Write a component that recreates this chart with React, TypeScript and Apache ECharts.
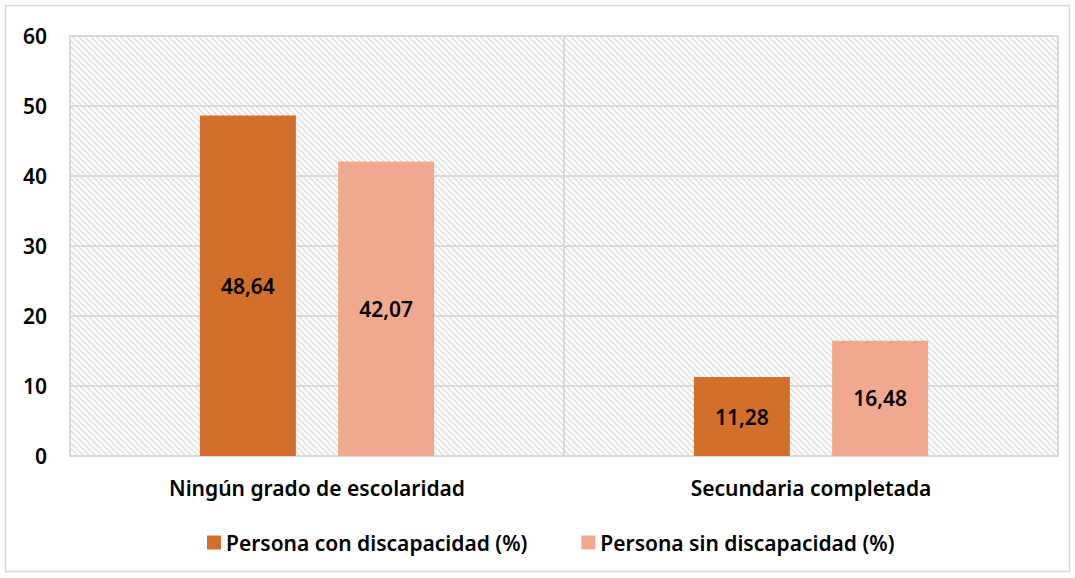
import React, { useEffect, useRef } from "react";
import * as echarts from "echarts";

const categories = ["Ningún grado de escolaridad", "Secundaria completada"];
const seriesNames = ["Persona con discapacidad (%)", "Persona sin discapacidad (%)"];
const conDiscapacidad = [48.64, 11.28];
const sinDiscapacidad = [42.07, 16.48];
const yTicks = { min: 0, max: 60, interval: 10 };

const FONT = "'Noto Sans', 'Open Sans', sans-serif";
const FS = 21;

function makeHatch(): HTMLCanvasElement {
  const s = 6;
  const c = document.createElement("canvas");
  c.width = s;
  c.height = s;
  const ctx = c.getContext("2d")!;
  ctx.fillStyle = "#ffffff";
  ctx.fillRect(0, 0, s, s);
  ctx.strokeStyle = "#d6d6d6";
  ctx.lineWidth = 1.2;
  ctx.beginPath();
  ctx.moveTo(-1, -1);
  ctx.lineTo(s + 1, s + 1);
  ctx.moveTo(-1, s - 1);
  ctx.lineTo(1, s + 1);
  ctx.moveTo(s - 1, -1);
  ctx.lineTo(s + 1, 1);
  ctx.stroke();
  return c;
}

const fmt = (v: number) => v.toFixed(2).replace(".", ",");

export default function App() {
  const ref = useRef<HTMLDivElement>(null);
  useEffect(() => {
    if (!ref.current) return;
    const chart = echarts.init(ref.current, undefined, { renderer: "svg" });
    const hatch = makeHatch();
    const labelStyle = {
      show: true,
      position: "inside" as const,
      color: "#000",
      fontFamily: FONT,
      fontWeight: 600,
      fontSize: FS,
      formatter: (p: any) => fmt(p.value),
    };
    chart.setOption({
      animation: false,
      backgroundColor: "#fff",
      graphic: [
        {
          type: "rect",
          shape: { x: 5.5, y: 5.5, width: 1064, height: 566 },
          style: { fill: "none", stroke: "#d9d9d9", lineWidth: 1.5 },
          silent: true,
        },
      ],
      grid: {
        left: 70,
        right: 17,
        top: 36,
        bottom: 122,
        show: true,
        backgroundColor: { image: hatch, repeat: "repeat" },
        borderColor: "#d9d9d9",
        borderWidth: 1.5,
        containLabel: false,
      },
      legend: {
        bottom: 20,
        left: 202,
        itemWidth: 14,
        itemHeight: 14,
        itemGap: 54,
        icon: "rect",
        textStyle: { fontFamily: FONT, fontSize: FS, color: "#000", fontWeight: 600 },
        data: seriesNames,
      },
      xAxis: {
        type: "category",
        data: categories,
        axisLine: { show: true, lineStyle: { color: "#d9d9d9", width: 2 } },
        axisTick: { show: false },
        splitLine: { show: true, lineStyle: { color: "#d9d9d9", width: 2 } },
        axisLabel: {
          fontFamily: FONT,
          fontSize: FS,
          color: "#000",
          fontWeight: 600,
          margin: 21,
        },
      },
      yAxis: {
        type: "value",
        min: yTicks.min,
        max: yTicks.max,
        interval: yTicks.interval,
        axisLine: { show: true, lineStyle: { color: "#d9d9d9", width: 2 } },
        axisTick: { show: false },
        splitLine: { show: true, lineStyle: { color: "#d9d9d9", width: 2 } },
        axisLabel: {
          fontFamily: FONT,
          fontSize: FS,
          color: "#000",
          fontWeight: 600,
          margin: 23,
        },
      },
      series: [
        {
          name: seriesNames[0],
          type: "bar",
          data: conDiscapacidad,
          barWidth: 96,
          barGap: "44%",
          itemStyle: { color: "#D46E2B" },
          label: labelStyle,
        },
        {
          name: seriesNames[1],
          type: "bar",
          data: sinDiscapacidad,
          barWidth: 96,
          barGap: "44%",
          itemStyle: { color: "#F0A98D" },
          label: labelStyle,
        },
      ],
    });
    return () => chart.dispose();
  }, []);
  return (
    <div
      ref={ref}
      style={{ position: "fixed", left: 0, top: 0, width: 1075, height: 578 }}
    />
  );
}
